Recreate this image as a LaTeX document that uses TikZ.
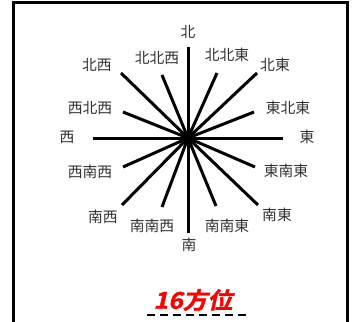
\documentclass[tikz,border=0pt]{standalone}
\usepackage{fontspec}
\usepackage{xcolor}
\newfontfamily\jpfont{Noto Sans CJK JP}
\newfontfamily\titlefont[UprightFont=* Bold,FakeSlant=0.22,FakeBold=1.6,FakeStretch=1.08]{Noto Sans CJK JP}
\definecolor{ink}{RGB}{50,50,50}
\definecolor{titlered}{RGB}{255,0,0}

\begin{document}
\begin{tikzpicture}[x=1bp,y=-1bp,
    dir/.style={font=\jpfont\fontsize{14.8bp}{15bp}\selectfont, text=ink, inner sep=0pt},
    ray/.style={line width=3bp}]
  \useasboundingbox (0,0) rectangle (353,322);
  % frame
  \draw[line width=3bp] (13.5,322) -- (13.5,2.5) -- (347,2.5) -- (347,322);

  % ray ends
  \coordinate (c) at (188,138);
  \coordinate (n) at (188,47);
  \coordinate (nne) at (217,73);
  \coordinate (ne) at (257,73);
  \coordinate (ene) at (254,112);
  \coordinate (e) at (283,138);
  \coordinate (ese) at (255,167);
  \coordinate (se) at (258,205);
  \coordinate (sse) at (216,206);
  \coordinate (s) at (188,233);
  \coordinate (ssw) at (162,207);
  \coordinate (sw) at (122,205);
  \coordinate (wsw) at (123,167);
  \coordinate (w) at (93,138);
  \coordinate (wnw) at (123,112);
  \coordinate (nw) at (121,73);
  \coordinate (nnw) at (162,75);

  \foreach \p in {n,nne,ne,ene,e,ese,se,sse,s,ssw,sw,wsw,w,wnw,nw,nnw}
    \draw[ray] (c) -- (\p);
  \fill (c) circle (5.5bp);

  % labels
  \node[dir] (ln) at (188,32) {北};
  \node[dir] (lnne) at (227,55) {北北東};
  \node[dir] (lne) at (275,65) {北東};
  \node[dir] (lene) at (288,108) {東北東};
  \node[dir] (le) at (307,137) {東};
  \node[dir] (lese) at (286,171) {東南東};
  \node[dir] (lse) at (277,215) {南東};
  \node[dir] (lsse) at (227,226) {南南東};
  \node[dir] (ls) at (189,245) {南};
  \node[dir] (lssw) at (152,226) {南南西};
  \node[dir] (lsw) at (103,217) {南西};
  \node[dir] (lwsw) at (90,172) {西南西};
  \node[dir] (lw) at (67,137) {西};
  \node[dir] (lwnw) at (90,108) {西北西};
  \node[dir] (lnw) at (97,65) {北西};
  \node[dir] (lnnw) at (157,58) {北北西};

  % title
  \node[font=\titlefont\fontsize{23bp}{24bp}\selectfont, text=titlered, inner sep=0pt]
    (title) at (193,300) {16方位};
  \coordinate (ula) at (147,315);
  \coordinate (ulb) at (250,315);
  \draw[line width=2bp, dash pattern=on 8bp off 5bp] (ula) -- (ulb);
\end{tikzpicture}
\end{document}
